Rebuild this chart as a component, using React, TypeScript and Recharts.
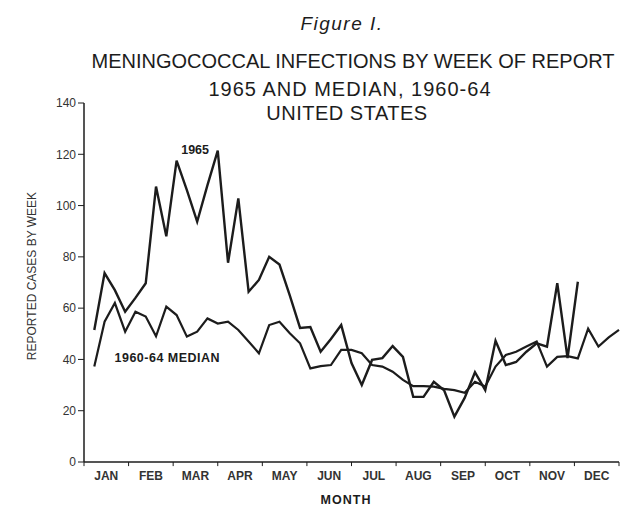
import React from "react";
import { LineChart, Line, XAxis, YAxis, ReferenceLine, ReferenceDot } from "recharts";

// Weekly reported cases
const cases1965 = [
    51.5, 73.7, 67, 58.6, 64, 69.7, 107.4, 88, 117.5, 106, 93.7, 108, 121.4, 77.7, 102.8, 66.4,
    71, 80, 77, 65, 52.3, 52.6, 43, 48, 53.4, 38.6, 30, 39.8, 40.5, 45.2, 41, 25.4,
    25.4, 31.3, 28, 17.7, 25, 35, 28, 47.3, 37.8, 39, 43, 46.3, 45, 69.7, 40.5, 70.3,
];
const median6064 = [
    37.2, 54.7, 62, 50.8, 58.6, 56.7, 49, 60.6, 57.3, 48.9, 50.8, 56, 54, 54.7, 51.5, 47,
    42.4, 53.4, 54.7, 50.2, 46.3, 36.5, 37.4, 37.8, 43.7, 43.7, 42.4, 37.8, 37.2, 35.2, 32, 29.6,
    29.6, 29.4, 28.5, 28, 27, 31.3, 29.4, 37.2, 41.7, 43, 45, 47, 37.2, 41, 41.3, 40.4,
    52, 45, 48.6, 51.5,
];
const months = ["JAN", "FEB", "MAR", "APR", "MAY", "JUN", "JUL", "AUG", "SEP", "OCT", "NOV", "DEC"];
const yTicks = [0, 20, 40, 60, 80, 100, 120, 140];

const WEEKS = 52;
const perMonth = WEEKS / 12;
const monthCenters = months.map((_, i) => (i + 0.5) * perMonth);
const monthEdges = [...months.map((_, i) => i * perMonth), WEEKS];

const data = median6064.map((m, i) => ({
    week: i + 1,
    median: m,
    y1965: i < cases1965.length ? cases1965[i] : null,
}));

const ink = "#1c1c1c";
const font = "'Liberation Sans', Arial, sans-serif";

const textStyle = (top: number, size: number, extra: React.CSSProperties = {}): React.CSSProperties => ({
    position: "absolute",
    left: 53,
    width: 600,
    top,
    textAlign: "center",
    fontFamily: font,
    fontSize: size,
    lineHeight: "24px",
    color: ink,
    whiteSpace: "nowrap",
    ...extra,
});

export default function App() {
    return (
        <div style={{ position: "absolute", left: 0, top: 0, width: 628, height: 508, background: "#fff" }}>
            <div style={textStyle(12, 19, { left: 42, fontStyle: "italic", letterSpacing: 1.5 })}>Figure I.</div>
            <div style={textStyle(49, 20)}>MENINGOCOCCAL INFECTIONS BY WEEK OF REPORT</div>
            <div style={textStyle(77, 20, { left: 50, letterSpacing: 1 })}>1965 AND MEDIAN, 1960-64</div>
            <div style={textStyle(101, 20, { left: 47, letterSpacing: 0.5 })}>UNITED STATES</div>
            <div
                style={{
                    position: "absolute",
                    left: 32,
                    top: 276,
                    transform: "translate(-50%, -50%) rotate(-90deg)",
                    whiteSpace: "nowrap",
                    fontFamily: font,
                    fontSize: 12,
                    color: "#333",
                }}
            >
                REPORTED CASES BY WEEK
            </div>
            <div
                style={{
                    position: "absolute",
                    left: 296,
                    width: 100,
                    top: 493,
                    textAlign: "center",
                    fontFamily: font,
                    fontSize: 12.5,
                    fontWeight: "bold",
                    letterSpacing: 1,
                    color: ink,
                }}
            >
                MONTH
            </div>
            <LineChart
                width={628}
                height={508}
                data={data}
                margin={{ top: 103, right: 9, bottom: 16, left: 44 }}
                style={{ position: "absolute", left: 0, top: 0 }}
            >
                <XAxis
                    dataKey="week"
                    type="number"
                    domain={[0, WEEKS]}
                    ticks={monthCenters}
                    tickFormatter={(_v: number, i: number) => months[i]}
                    interval={0}
                    height={30}
                    tickLine={false}
                    tickSize={6}
                    tickMargin={3}
                    axisLine={{ stroke: ink, strokeWidth: 1.5 }}
                    tick={{ fill: "#333", fontSize: 12, fontWeight: "bold", fontFamily: font }}
                />
                <YAxis
                    type="number"
                    domain={[0, 140]}
                    ticks={yTicks}
                    width={40}
                    tickSize={6}
                    tickMargin={2}
                    tickLine={{ stroke: ink }}
                    axisLine={{ stroke: ink, strokeWidth: 1.5 }}
                    tick={{ fill: "#333", fontSize: 12, fontFamily: font }}
                />
                {monthEdges.map((e) => (
                    <ReferenceLine
                        key={e}
                        segment={[
                            { x: e, y: 0 },
                            { x: e, y: -1.6 },
                        ]}
                        stroke={ink}
                        strokeWidth={1}
                        ifOverflow="visible"
                    />
                ))}
                <Line
                    type="linear"
                    dataKey="median"
                    stroke={ink}
                    strokeWidth={2.2}
                    dot={false}
                    isAnimationActive={false}
                />
                <Line
                    type="linear"
                    dataKey="y1965"
                    stroke={ink}
                    strokeWidth={2.4}
                    dot={false}
                    connectNulls={false}
                    isAnimationActive={false}
                />
                <ReferenceDot
                    x={10.8}
                    y={121.7}
                    r={0}
                    ifOverflow="visible"
                    label={{ value: "1965", position: "center", fontSize: 12.5, fontWeight: "bold", fill: ink, fontFamily: font }}
                />
                <ReferenceDot
                    x={8.1}
                    y={40.8}
                    r={0}
                    ifOverflow="visible"
                    label={{
                        value: "1960-64 MEDIAN",
                        position: "center",
                        fontSize: 12.5,
                        fontWeight: "bold",
                        letterSpacing: 0.5,
                        fill: ink,
                        fontFamily: font,
                    }}
                />
            </LineChart>
        </div>
    );
}
